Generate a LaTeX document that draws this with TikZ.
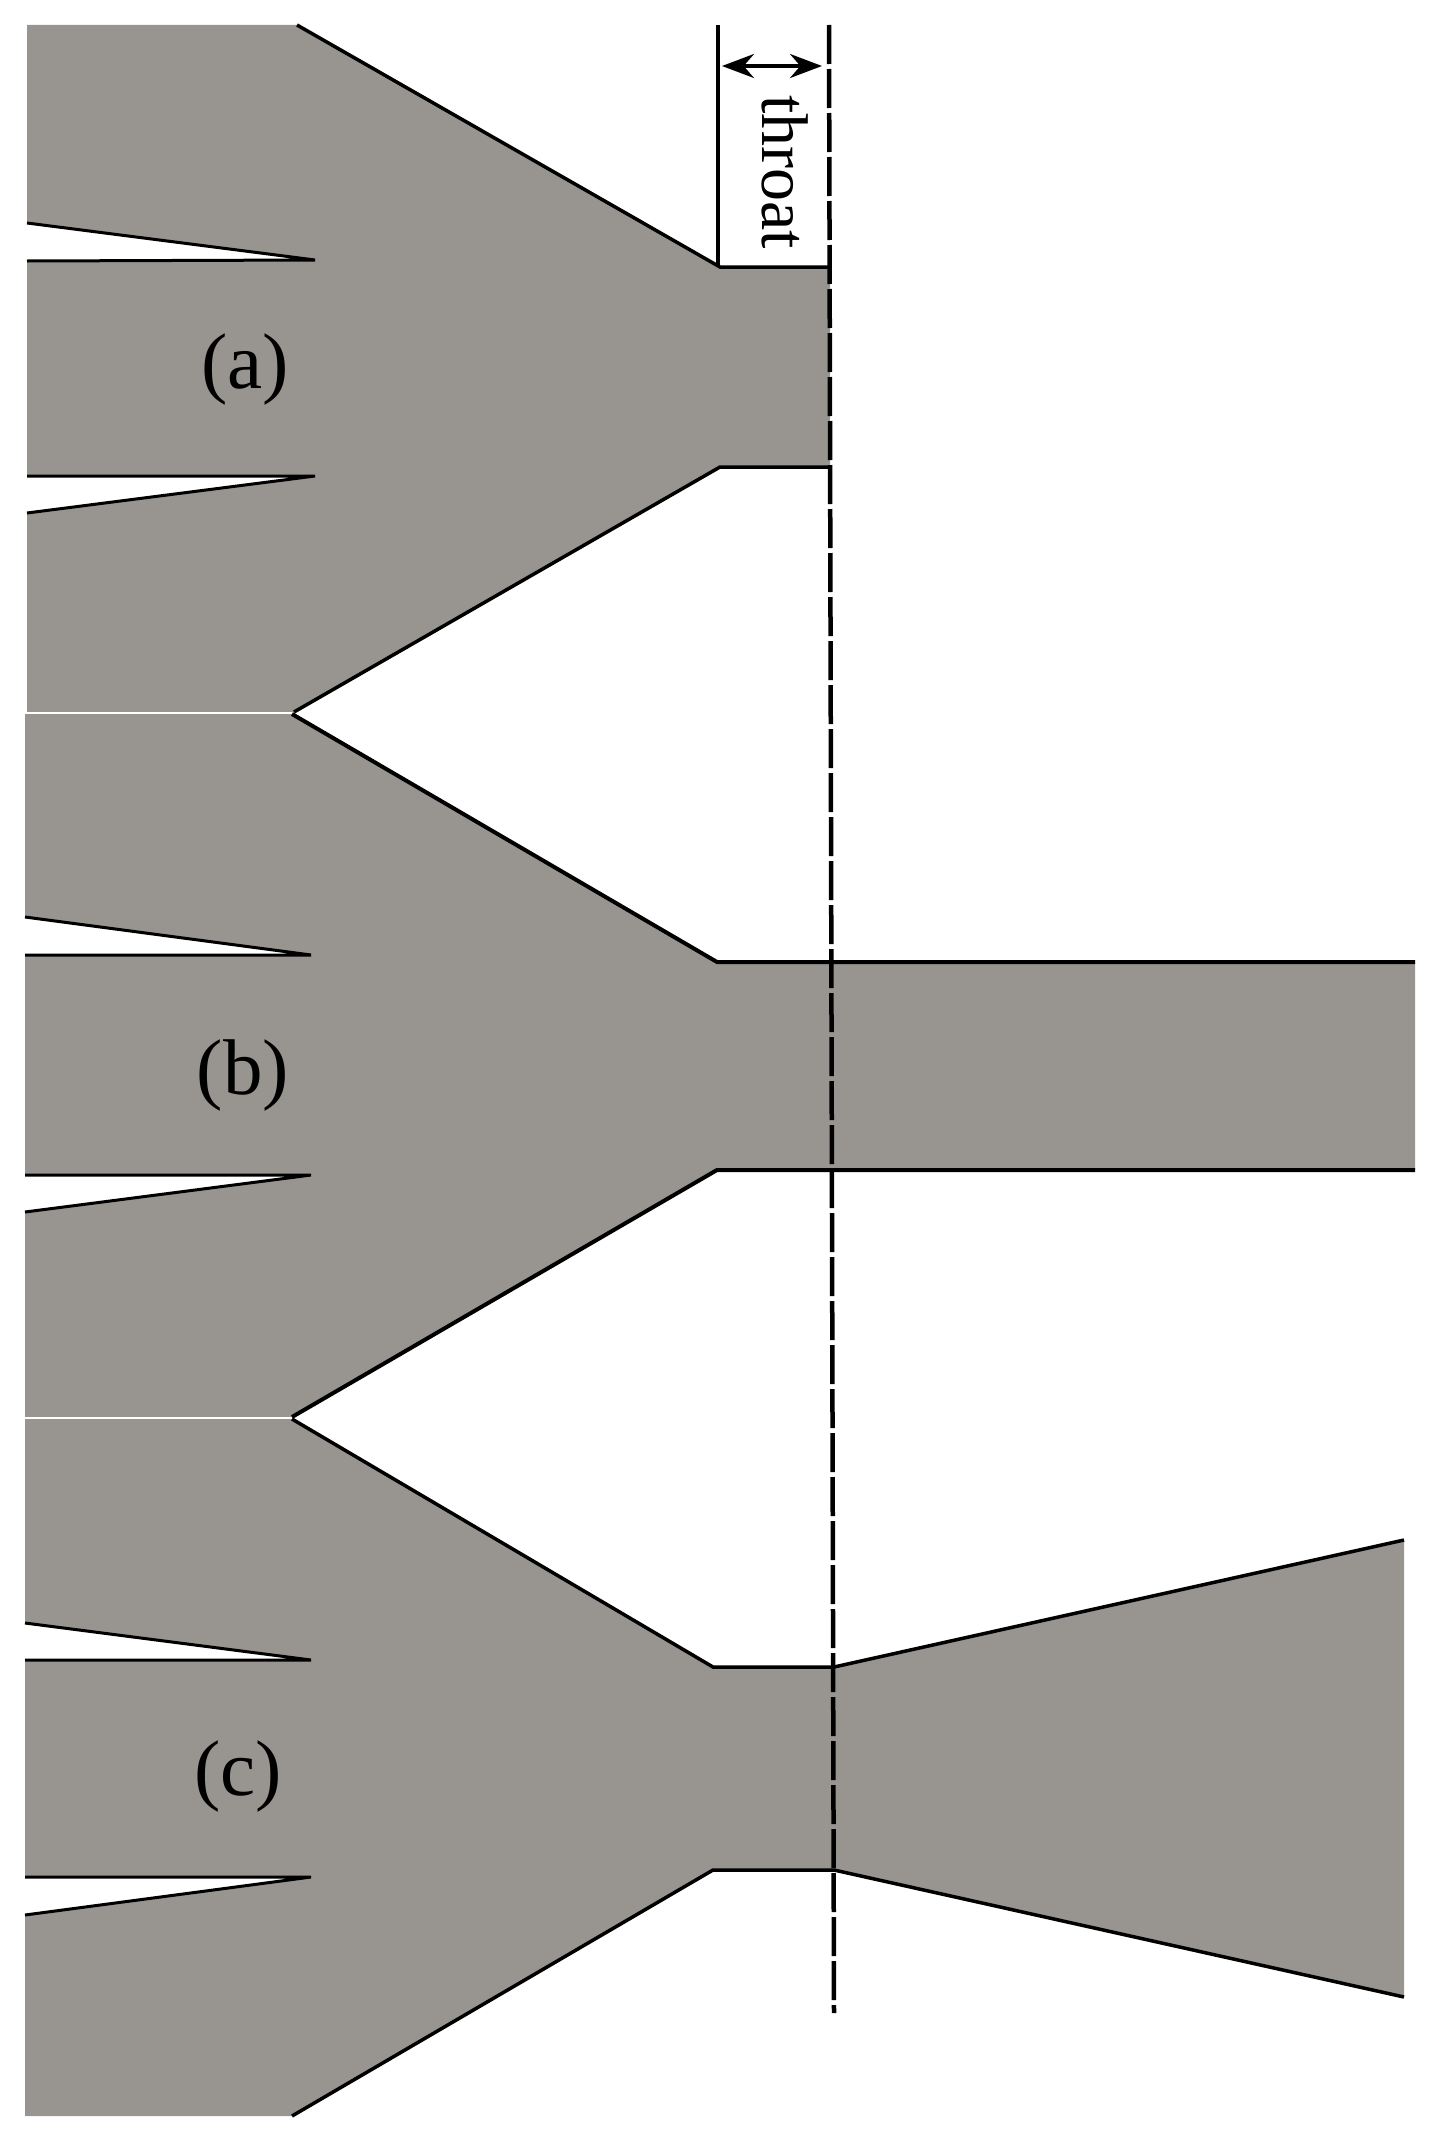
\documentclass[tikz,border=0pt]{standalone}
\usepackage{fontspec}
\setmainfont{Liberation Serif}
\usetikzlibrary{arrows.meta}
\definecolor{wall}{RGB}{152,149,144}
\tikzset{
  x=1pt,y=-1pt,
  body/.style={fill=wall,draw=none},
  edge/.style={draw=black,line width=3.5pt,line join=miter,line cap=butt},
  slotedge/.style={draw=black,line width=3pt,line join=bevel,line cap=butt},
  slot/.style={fill=white,draw=none},
  seam/.style={draw=white,line width=2.5pt},
  axis/.style={draw=black,line width=4.5pt,dash pattern=on 39pt off 5pt},
  label/.style={inner sep=0pt,font=\fontsize{79}{84}\selectfont},
  thr/.style={inner sep=0pt,rotate=-90,font=\fontsize{66}{70}\selectfont},
  span/.style={draw=black,line width=3.5pt,{Stealth[length=32pt,width=24pt]}-{Stealth[length=32pt,width=24pt]}}
}
\begin{document}
\begin{tikzpicture}
\useasboundingbox (0,0) rectangle (1441,2141);
% panel a
\fill[body] (27,25) -- (297,25) -- (720,267) -- (830,267) -- (830,467) -- (720,467) -- (294,712) -- (27,712) -- cycle;
\fill[slot] (27,223) -- (315,260) -- (27,261) -- cycle;
\fill[slot] (27,476) -- (315,476) -- (27,513) -- cycle;
\draw[edge] (297,25) -- (720,267) -- (830,267);
\draw[edge] (830,467) -- (720,467) -- (294,712);
\draw[slotedge] (27,223) -- (315,260) -- (27,261);
\draw[slotedge] (27,513) -- (315,476) -- (27,476);
% panel b
\fill[body] (25,714) -- (292,714) -- (717,962) -- (1415,962) -- (1415,1170) -- (717,1170) -- (292,1417) -- (25,1417) -- cycle;
\fill[slot] (25,917) -- (311,955) -- (25,955) -- cycle;
\fill[slot] (25,1175) -- (311,1175) -- (25,1212) -- cycle;
\draw[edge,line width=4pt] (292,714) -- (717,962) -- (1415,962);
\draw[edge,line width=4pt] (1415,1170) -- (717,1170) -- (292,1417);
\draw[slotedge] (25,917) -- (311,955) -- (25,955);
\draw[slotedge] (25,1212) -- (311,1175) -- (25,1175);
% panel c
\fill[body] (25,1419) -- (292,1419) -- (713,1667) -- (834,1667) -- (1404,1540) -- (1404,1997) -- (834,1870) -- (713,1870) -- (292,2116) -- (25,2116) -- cycle;
\fill[slot] (25,1623) -- (311,1660) -- (25,1660) -- cycle;
\fill[slot] (25,1877) -- (311,1877) -- (25,1915) -- cycle;
\draw[edge] (292,1419) -- (713,1667) -- (834,1667) -- (1404,1540);
\draw[edge] (1404,1997) -- (834,1870) -- (713,1870) -- (292,2116);
\draw[slotedge] (25,1623) -- (311,1660) -- (25,1660);
\draw[slotedge] (25,1915) -- (311,1877) -- (25,1877);
% seams between panels
\draw[seam] (25,713) -- (292,713);
\draw[seam] (25,1418) -- (290,1418);
% throat marks
\coordinate (wallTop) at (718,25);
\coordinate (wallEnd) at (718,267);
\draw[draw=black,line width=4pt] (wallTop) -- (wallEnd);
\coordinate (axisTop) at (829,25);
\coordinate (axisEnd) at (834,2013);
\draw[axis] (axisTop) -- (axisEnd);
\coordinate (spanL) at (722,66);
\coordinate (spanR) at (822,66);
\draw[span] (spanL) -- (spanR);
\node[thr] (throat) at (785,172) {throat};
\node[label] (a) at (245,369) {(a)};
\node[label] (b) at (243,1075) {(b)};
\node[label] (c) at (238,1776) {(c)};
\end{tikzpicture}
\end{document}
